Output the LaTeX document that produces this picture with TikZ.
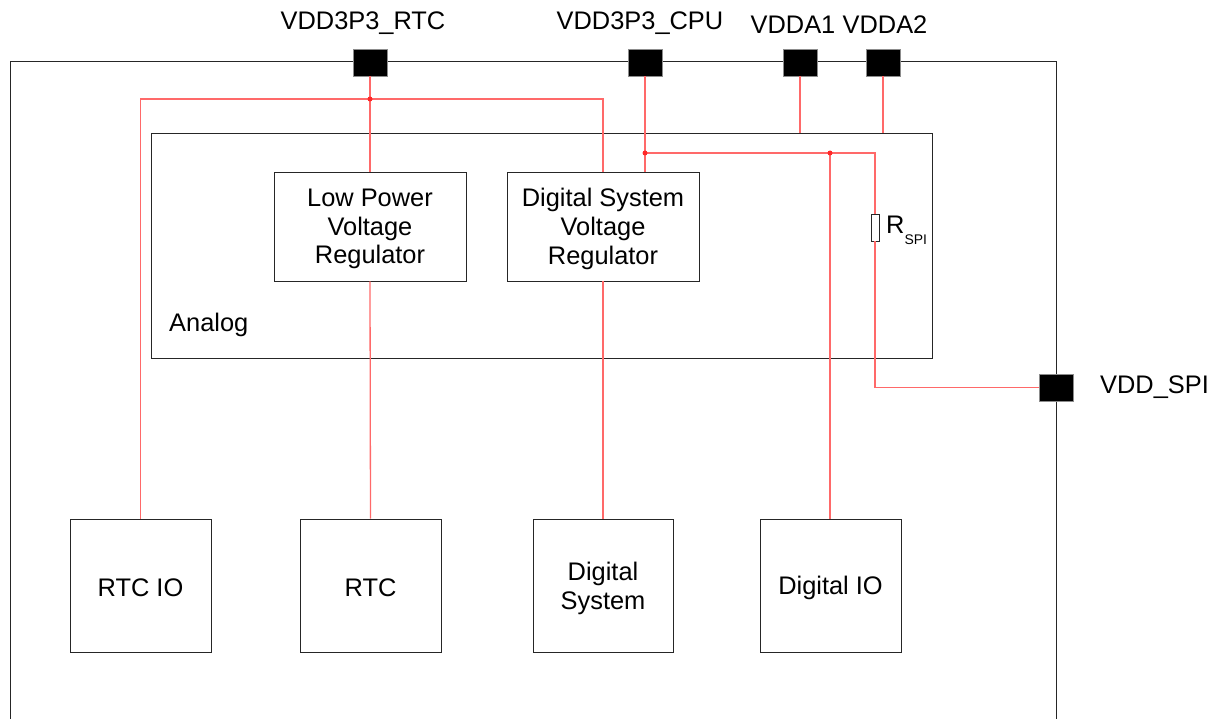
\documentclass[tikz,border=0pt]{standalone}
\usepackage{fontspec}
\setmainfont{Liberation Sans}
\definecolor{wirered}{RGB}{255,105,105}
\definecolor{dotred}{RGB}{255,40,40}
\begin{document}
\begin{tikzpicture}[x=1bp,y=-1bp,
  every node/.style={font=\fontsize{25.5}{29}\selectfont},
  blk/.style={draw=black!85, line width=0.9bp, inner sep=0pt},
  btxt/.style={label={[align=center, inner sep=0pt, yshift=-2.5bp]center:#1}},
  pad/.style={fill=black, draw=black!45, line width=0.8bp, minimum width=34bp, minimum height=27bp, inner sep=0pt},
  wire/.style={draw=wirered, line width=1.3bp},
  dot/.style={circle, fill=dotred, inner sep=0pt, minimum size=5bp},
  lbl/.style={inner sep=0pt}]
\useasboundingbox (0,0) rectangle (1214,719);
% outer chip
\node[draw=black!85, line width=0.9bp, minimum width=1046bp, minimum height=700bp, inner sep=0pt] (chip) at (533,411) {};
% analog block
\node[blk, minimum width=781bp, minimum height=225bp] (analog) at (541.5,245.5) {};
\node[lbl, anchor=west] (analogtxt) at (169,325) {Analog};
% regulators
\node[blk, minimum width=192bp, minimum height=109bp, btxt={Low Power\\Voltage\\Regulator}] (lpvr) at (370,226.5) {};
\node[blk, minimum width=192bp, minimum height=109bp, btxt={Digital System\\Voltage\\Regulator}] (dsvr) at (603,226.5) {};
% bottom blocks
\node[blk, minimum width=141bp, minimum height=133bp, btxt={RTC IO}] (rtcio) at (140.5,585.5) {};
\node[blk, minimum width=141bp, minimum height=133bp, btxt={RTC}] (rtc) at (370.5,585.5) {};
\node[blk, minimum width=140bp, minimum height=133bp, btxt={Digital\\System}] (dsys) at (603,585.5) {};
\node[blk, minimum width=141bp, minimum height=133bp, btxt={Digital IO}] (dio) at (830.5,585.5) {};
% pads
\node[pad] (prtc) at (370,62.5) {};
\node[pad] (pcpu) at (645,62.5) {};
\node[pad] (pa1) at (800,62.5) {};
\node[pad] (pa2) at (883,62.5) {};
\node[pad] (pspi) at (1056,387.5) {};
% pad labels
\node[lbl] (lrtc) at (363,23) {VDD3P3\_RTC};
\node[lbl] (lcpu) at (640,23) {VDD3P3\_CPU};
\node[lbl] (la1) at (793,25) {VDDA1};
\node[lbl] (la2) at (885,25) {VDDA2};
\node[lbl, anchor=west] (lspi) at (1100,387) {VDD\_SPI};
% resistor
\node[draw=black!85, line width=0.9bp, fill=white, minimum width=8bp, minimum height=27bp, inner sep=0pt] (rspi) at (875,227.5) {};
\node[lbl, anchor=west] (rlbl) at (886,230) {R\raisebox{-11bp}{\fontsize{14}{14}\selectfont SPI}};
% junctions
\coordinate (j1) at (370,99);
\coordinate (j2) at (645,153);
\coordinate (j3) at (830,153);
% wires
\draw[wire] (prtc.south) -- (lpvr.north);
\draw[wire] (j1) -| (rtcio.north);
\draw[wire] (j1) -| (dsvr.north);
\draw[wire] (lpvr.south) -- (rtc.north);
\draw[wire] (dsvr.south) -- (dsys.north);
\draw[wire] (pcpu.south) -- (pcpu.south |- dsvr.north);
\draw[wire] (j2) -- (j3) -| (rspi.north);
\draw[wire] (j3) -- (j3 |- dio.north);
\draw[wire] (rspi.south) |- (pspi.west);
\draw[wire] (pa1.south) -- (pa1.south |- analog.north);
\draw[wire] (pa2.south) -- (pa2.south |- analog.north);
\node[dot] at (j1) {};
\node[dot] at (j2) {};
\node[dot] at (j3) {};
\end{tikzpicture}
\end{document}
